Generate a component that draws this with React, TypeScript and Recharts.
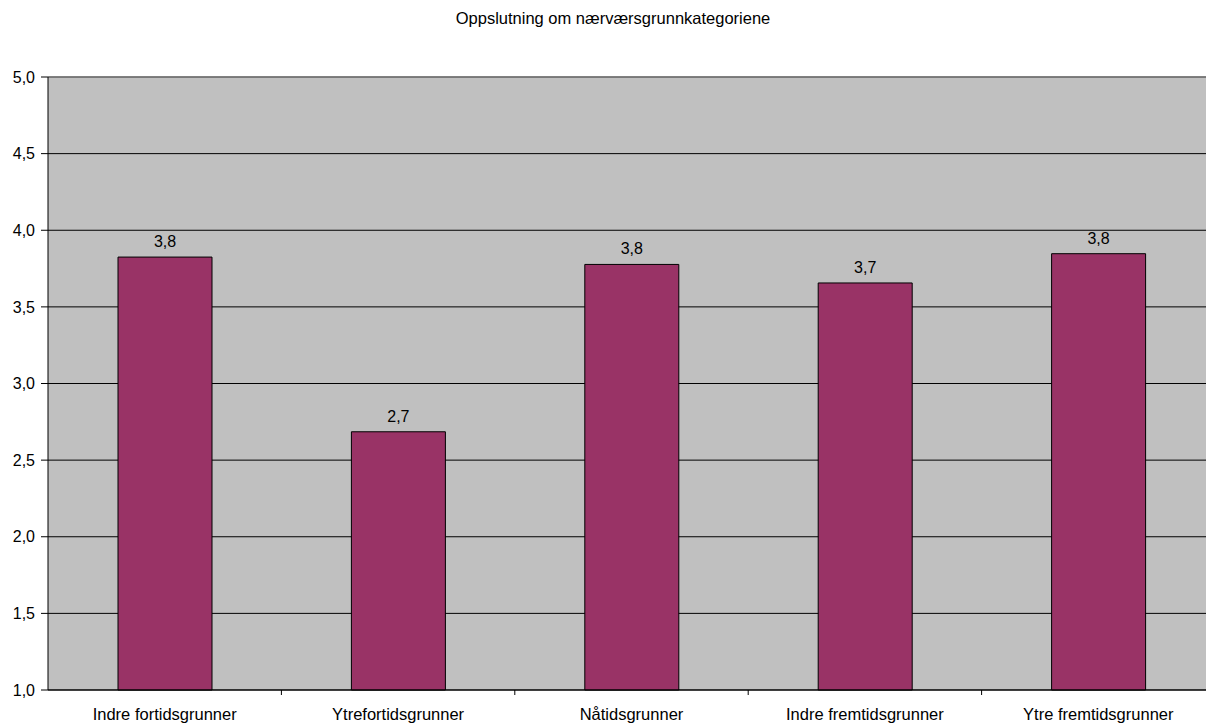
import { Bar, BarChart, CartesianGrid, LabelList, ReferenceLine, XAxis, YAxis } from "recharts";

const categories = [
  "Indre fortidsgrunner",
  "Ytrefortidsgrunner",
  "Nåtidsgrunner",
  "Indre fremtidsgrunner",
  "Ytre fremtidsgrunner",
];
const scores = [3.825, 2.685, 3.777, 3.656, 3.847];
const yTicks = [1, 1.5, 2, 2.5, 3, 3.5, 4, 4.5, 5];

const chartTitle = "Oppslutning om nærværsgrunnkategoriene";

const data = categories.map((name, i) => ({ name, score: scores[i] }));

const font = "'Liberation Sans', Arial, sans-serif";
const comma = (v: number) => v.toFixed(1).replace(".", ",");

// category label plus a small tick mark on the left edge of each band
function CategoryTick(props: any) {
  const { x, y, payload, index } = props;
  const half = payload?.offset ?? 0;
  return (
    <g>
      {index > 0 && <line x1={x - half} x2={x - half} y1={y} y2={y + 5} stroke="#000" />}
      <text x={x} y={y + 30} textAnchor="middle" fill="#000" fontSize={16.5} fontFamily={font}>
        {payload.value}
      </text>
    </g>
  );
}

export default function App() {
  return (
    <div
      style={{
        position: "fixed",
        left: 0,
        top: 0,
        width: 1206,
        height: 723,
        overflow: "hidden",
        background: "#fff",
        fontFamily: font,
      }}
    >
      <div
        style={{
          position: "absolute",
          left: 10,
          top: 9,
          width: 1206,
          textAlign: "center",
          fontSize: 16.5,
          color: "#000",
        }}
      >
        {chartTitle}
      </div>
      <BarChart width={1225} height={723} data={data} margin={{ top: 77, right: 10, bottom: 0, left: 0 }}>
        <CartesianGrid vertical={false} stroke="#000" fill="#C0C0C0" />
        <XAxis
          dataKey="name"
          height={33}
          tickSize={0}
          tickMargin={0}
          axisLine={{ stroke: "#000" }}
          tickLine={false}
          tick={<CategoryTick />}
          interval={0}
        />
        <YAxis
          domain={[1, 5]}
          ticks={yTicks}
          width={48}
          tickSize={7}
          tickMargin={6}
          tickFormatter={comma}
          axisLine={{ stroke: "#000" }}
          tickLine={{ stroke: "#000" }}
          tick={{ fill: "#000", fontSize: 16, fontFamily: font }}
        />
        <ReferenceLine y={5} stroke="#808080" strokeWidth={1.5} />
        <Bar dataKey="score" barSize={94} fill="#993366" stroke="#000" strokeWidth={1} isAnimationActive={false}>
          <LabelList
            dataKey="score"
            position="top"
            offset={10}
            formatter={(v: any) => comma(Number(v))}
            style={{ fill: "#000", fontSize: 16, fontFamily: font }}
          />
        </Bar>
      </BarChart>
    </div>
  );
}
